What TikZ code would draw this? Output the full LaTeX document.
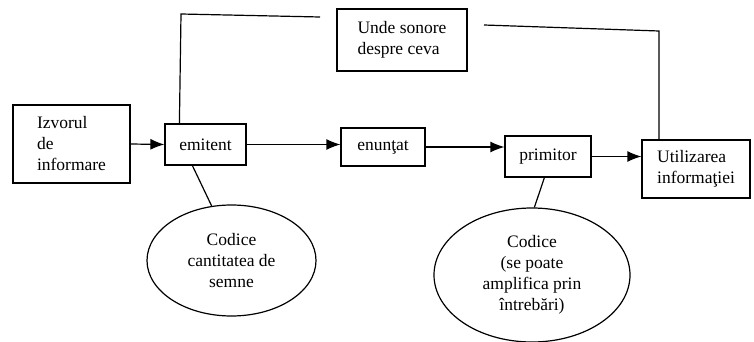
\documentclass[tikz,border=0pt]{standalone}
\usepackage{fontspec}
\setmainfont{Liberation Serif}
\usetikzlibrary{arrows.meta,shapes.geometric,calc}
\begin{document}
\begin{tikzpicture}[x=1pt,y=-1pt,line width=1.2pt,
  every node/.style={font=\fontsize{17.5}{21}\selectfont},
  box/.style={draw,rectangle,inner sep=0pt,align=left},
  oval/.style={draw,ellipse,inner sep=0pt,align=center},
  arr/.style={-{Latex[length=14pt,width=11pt]}}]
\useasboundingbox (0,0) rectangle (754,342);
\node[box,minimum width=117,minimum height=78] (izv) at (71.5,144) {Izvorul\\de\\informare};
\node[box,minimum width=81,minimum height=41] (emit) at (205.5,144.5) {emitent};
\node[box,minimum width=84,minimum height=38] (enun) at (383,147) {enunţat};
\node[box,minimum width=86,minimum height=41] (prim) at (548,156.5) {primitor};
\node[box,minimum width=108,minimum height=58] (util) at (696,169) {Utilizarea\\informaţiei};
\node[box,minimum width=130,minimum height=62] (unde) at (402,40) {Unde sonore\\despre ceva};
\node[oval,minimum width=169,minimum height=111] (ell1) at (231.5,260.5) {Codice\\cantitatea de\\semne};
\node[oval,minimum width=196,minimum height=134] (ell2) at (532,275) {Codice\\(se poate\\amplifica prin\\întrebări)};
\coordinate (tl) at (181,14);
\coordinate (tm1) at (320,17);
\coordinate (tm2) at (484,25);
\coordinate (tr) at (659,31);
\draw[arr] (izv.east) -- (emit.west);
\draw[arr] (emit.east) -- (emit.east -| enun.west);
\draw[arr] (enun.east) -- (enun.east -| prim.west);
\draw[arr] (prim.east) -- (prim.east -| util.west);
\draw ($(emit.north west)+(15,0)$) -- (tl) -- (tm1);
\draw (tm2) -- (tr) -- (tr |- util.north);
\draw ($(emit.south west)+(28,0)$) -- (ell1.110);
\draw ($(prim.south west)+(40,0)$) -- (ell2.88);
\end{tikzpicture}
\end{document}
